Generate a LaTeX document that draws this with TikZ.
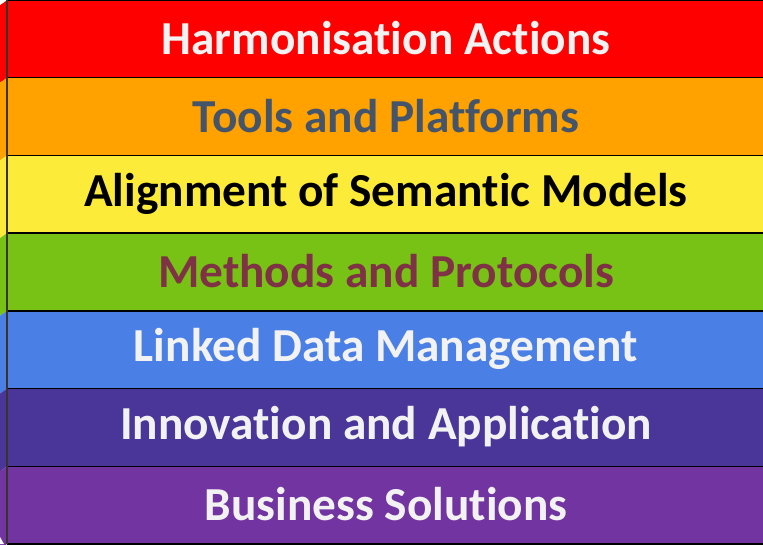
\documentclass[tikz,border=0pt]{standalone}
\usepackage{fontspec}
\setmainfont{Carlito}[Ligatures=NoCommon]
\definecolor{bred}{HTML}{FF0000}
\definecolor{borange}{HTML}{FFA200}
\definecolor{byellow}{HTML}{FDEB3A}
\definecolor{bgreen}{HTML}{78C115}
\definecolor{bblue}{HTML}{4A80E6}
\definecolor{bindigo}{HTML}{4A3699}
\definecolor{bpurple}{HTML}{7234A0}
\definecolor{tgray}{HTML}{44546A}
\definecolor{tmaroon}{HTML}{7F3145}
\definecolor{twhite}{HTML}{F2F2F2}
\begin{document}
\begin{tikzpicture}[x=0.75pt,y=-0.75pt,
  bandtext/.style={font=\fontsize{35.5}{40}\selectfont\bfseries, anchor=center, inner sep=0pt},
  bandline/.style={draw=black, line width=1.1pt}]
\useasboundingbox (0,0) rectangle (763,544);
\def\h{77.714}
\foreach \c [count=\i from 0] in {bred,borange,byellow,bgreen,bblue,bindigo,bpurple}{
  \pgfmathsetmacro{\ya}{\i*\h}
  \pgfmathsetmacro{\yb}{(\i+1)*\h}
  % side strip
  \fill[\c] (7,\ya) -- (7,\yb) -- (0,\yb+5) -- (0,\ya+5) -- cycle;
  % main band
  \fill[\c] (7,\ya) rectangle (770,\yb);
}
\fill[white] (0,0) -- (7,0) -- (0,5) -- cycle;
\fill[white] (0,544) -- (0,537) -- (4,544) -- cycle;
\foreach \i in {0,...,7}{
  \pgfmathsetmacro{\y}{\i*\h}
  \draw[bandline] (7,\y) -- (770,\y);
}
\draw[draw=black!80!olive, line width=1.1pt] (7,0) -- (7,544);
\node[bandtext, text=twhite] (t1) at (386,38.2) {Harmonisation Actions};
\node[bandtext, text=tgray] (t2) at (386,115.9) {Tools and Platforms};
\node[bandtext, text=black] (t3) at (386,193.6) {Alignment of Semantic Models};
\node[bandtext, text=tmaroon] (t4) at (386,271.3) {Methods and Protocols};
\node[bandtext, text=twhite] (t5) at (386,349) {Linked Data Management};
\node[bandtext, text=twhite] (t6) at (386,426.7) {Innovation and Application};
\node[bandtext, text=twhite] (t7) at (386,504.4) {Business Solutions};
\end{tikzpicture}
\end{document}
